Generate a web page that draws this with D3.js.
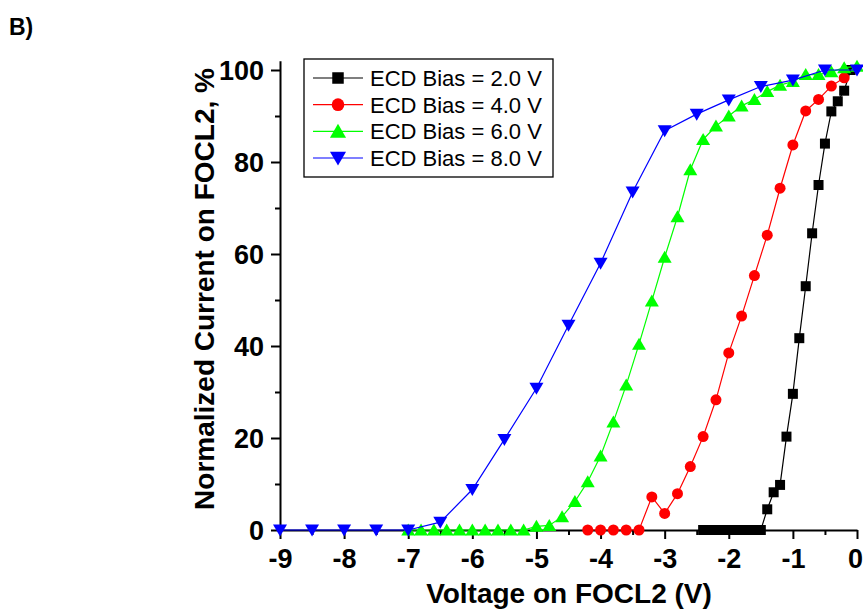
<!DOCTYPE html>
<html><head><meta charset="utf-8">
<script src="https://cdn.jsdelivr.net/npm/d3@7"></script>
<style>body{margin:0;background:#fff}svg{display:block}</style>
</head><body><svg id="c" width="863" height="609"></svg>
<script>
const xTicks = [-9,-8,-7,-6,-5,-4,-3,-2,-1,0];
const xMinorTicks = [-8.5,-7.5,-6.5,-5.5,-4.5,-3.5,-2.5,-1.5,-0.5];
const yTicks = [0,20,40,60,80,100];
const yMinorTicks = [10,30,50,70,90];
const seriesNames = ["ECD Bias = 2.0 V","ECD Bias = 4.0 V","ECD Bias = 6.0 V","ECD Bias = 8.0 V"];
const seriesColors = ["#000000","#ff0000","#00ff00","#0000ff"];
const seriesShapes = ["square","circle","triangleUp","triangleDown"];

const bias2X = [-2.4,-2.3,-2.2,-2.1,-2.0,-1.9,-1.8,-1.7,-1.6,-1.5,-1.4,-1.3,-1.2,-1.1,-1.0,-0.9,-0.8,-0.7,-0.6,-0.5,-0.4,-0.3,-0.2,-0.1];
const bias2Y = [0,0,0,0,0,0,0,0,0,0,4.5,8.2,9.8,20.3,29.6,41.7,53.0,64.5,75.0,84.0,91.0,93.2,95.5,100.0];

const bias4X = [-4.2,-4.0,-3.8,-3.6,-3.4,-3.2,-3.0,-2.8,-2.6,-2.4,-2.2,-2.0,-1.8,-1.6,-1.4,-1.2,-1.0,-0.8,-0.6,-0.4,-0.2];
const bias4Y = [0,0,0,0,0,7.2,3.6,7.9,13.8,20.3,28.3,38.5,46.5,55.3,64.1,74.3,83.7,91.1,93.6,96.5,98.3];

const bias6X = [-7.0,-6.8,-6.6,-6.4,-6.2,-6.0,-5.8,-5.6,-5.4,-5.2,-5.0,-4.8,-4.6,-4.4,-4.2,-4.0,-3.8,-3.6,-3.4,-3.2,-3.0,-2.8,-2.6,-2.4,-2.2,-2.0,-1.8,-1.6,-1.4,-1.2,-1.0,-0.8,-0.6,-0.4,-0.2,0.0];
const bias6Y = [0,0,0,0,0,0,0,0,0,0,0.8,1.0,2.9,6.2,10.5,16.1,23.5,31.5,40.4,49.8,59.3,68.1,78.3,84.9,87.8,90.0,92.2,93.6,95.3,96.7,97.5,99.0,99.0,99.6,100.5,100.8];

const bias8X = [-9.0,-8.5,-8.0,-7.5,-7.0,-6.5,-6.0,-5.5,-5.0,-4.5,-4.0,-3.5,-3.0,-2.5,-2.0,-1.5,-1.0,-0.5,0.0];
const bias8Y = [0,0,0,0,0,1.7,8.8,19.7,30.8,44.5,58.0,73.5,86.8,90.4,93.5,96.4,97.8,100.0,100.0];

const seriesX = [bias2X,bias4X,bias6X,bias8X];
const seriesY = [bias2Y,bias4Y,bias6Y,bias8Y];

const FONT = "'Liberation Sans', Arial, Helvetica, sans-serif";
const svg = d3.select("#c");
const x = d3.scaleLinear().domain([-9,0]).range([280,857]);
const y = d3.scaleLinear().domain([0,102]).range([530,60.8]);

// axes
const gx = svg.append("g").attr("transform","translate(0,530)")
  .call(d3.axisBottom(x).tickValues(xTicks).tickSize(9).tickSizeOuter(0).tickFormat(d3.format("d")));
const gxm = svg.append("g").attr("transform","translate(0,530)")
  .call(d3.axisBottom(x).tickValues(xMinorTicks).tickSize(5).tickSizeOuter(0).tickFormat(""));
const gy = svg.append("g").attr("transform","translate(280,0)")
  .call(d3.axisLeft(y).tickValues(yTicks).tickSize(9).tickSizeOuter(0).tickFormat(d3.format("d")));
const gym = svg.append("g").attr("transform","translate(280,0)")
  .call(d3.axisLeft(y).tickValues(yMinorTicks).tickSize(5).tickSizeOuter(0).tickFormat(""));
[gx,gxm,gy,gym].forEach(g=>{
  g.selectAll("path.domain").attr("stroke","#000").attr("stroke-width",2);
  g.selectAll(".tick line").attr("stroke","#000").attr("stroke-width",2);
});
gxm.select("path.domain").remove();
gym.select("path.domain").remove();
gx.selectAll(".tick text").attr("font-family",FONT).attr("font-weight","bold").attr("font-size",27)
  .attr("fill","#000").attr("dy",null).attr("y",38).text(d=>d3.format("d")(d).replace("−","-"));
gx.selectAll(".tick").filter(d=>d===0).select("text").attr("x",-2);
gy.selectAll(".tick text").attr("font-family",FONT).attr("font-weight","bold").attr("font-size",27)
  .attr("fill","#000").attr("x",-16).attr("dy","0.36em");

// markers
function markerPath(shape, k){
  k = k || 1;
  if(shape==="square") return `M${-5*k},${-5*k}H${5*k}V${5*k}H${-5*k}Z`;
  if(shape==="circle") return d3.symbol(d3.symbolCircle, 95*k*k)();
  if(shape==="triangleUp") return `M0,${-6.5*k}L${7*k},${5.5*k}L${-7*k},${5.5*k}Z`;
  return `M0,${6.5*k}L${7*k},${-5.5*k}L${-7*k},${-5.5*k}Z`;
}

const line = d3.line().x(d=>x(d[0])).y(d=>y(d[1]));
seriesX.forEach((xs,i)=>{
  const pts = xs.map((v,j)=>[v, seriesY[i][j]]);
  const g = svg.append("g");
  g.append("path").datum(pts).attr("d",line).attr("fill","none")
    .attr("stroke",seriesColors[i]).attr("stroke-width",1.2);
  g.selectAll("path.m").data(pts).enter().append("path").attr("class","m")
    .attr("d",markerPath(seriesShapes[i]))
    .attr("transform",d=>`translate(${x(d[0])},${y(d[1])})`)
    .attr("fill",seriesColors[i]);
});

// legend
const lg = svg.append("g");
lg.append("rect").attr("x",304).attr("y",59).attr("width",249).attr("height",118)
  .attr("fill","#fff").attr("stroke","#000").attr("stroke-width",1.3);
const rowY = d3.scaleLinear().domain([0,3]).range([78,158]);
seriesNames.forEach((n,i)=>{
  const ry = rowY(i);
  lg.append("line").attr("x1",313).attr("x2",363).attr("y1",ry).attr("y2",ry)
    .attr("stroke",seriesColors[i]).attr("stroke-width",1.2);
  lg.append("path").attr("d",markerPath(seriesShapes[i], 1.15)).attr("transform",`translate(338,${ry})`)
    .attr("fill",seriesColors[i]);
  lg.append("text").attr("x",370).attr("y",ry+8).attr("font-family",FONT).attr("font-size",22)
    .attr("fill","#000").text(n);
});

// titles
svg.append("text").attr("x",569).attr("y",603).attr("text-anchor","middle")
  .attr("font-family",FONT).attr("font-weight","bold").attr("font-size",28).text("Voltage on FOCL2 (V)");
svg.append("text").attr("transform","translate(214,289) rotate(-90)").attr("text-anchor","middle")
  .attr("font-family",FONT).attr("font-weight","bold").attr("font-size",28).text("Normalized Current on FOCL2, %");
svg.append("text").attr("x",9).attr("y",35)
  .attr("font-family",FONT).attr("font-weight","bold").attr("font-size",23).text("B)");
</script></body></html>
